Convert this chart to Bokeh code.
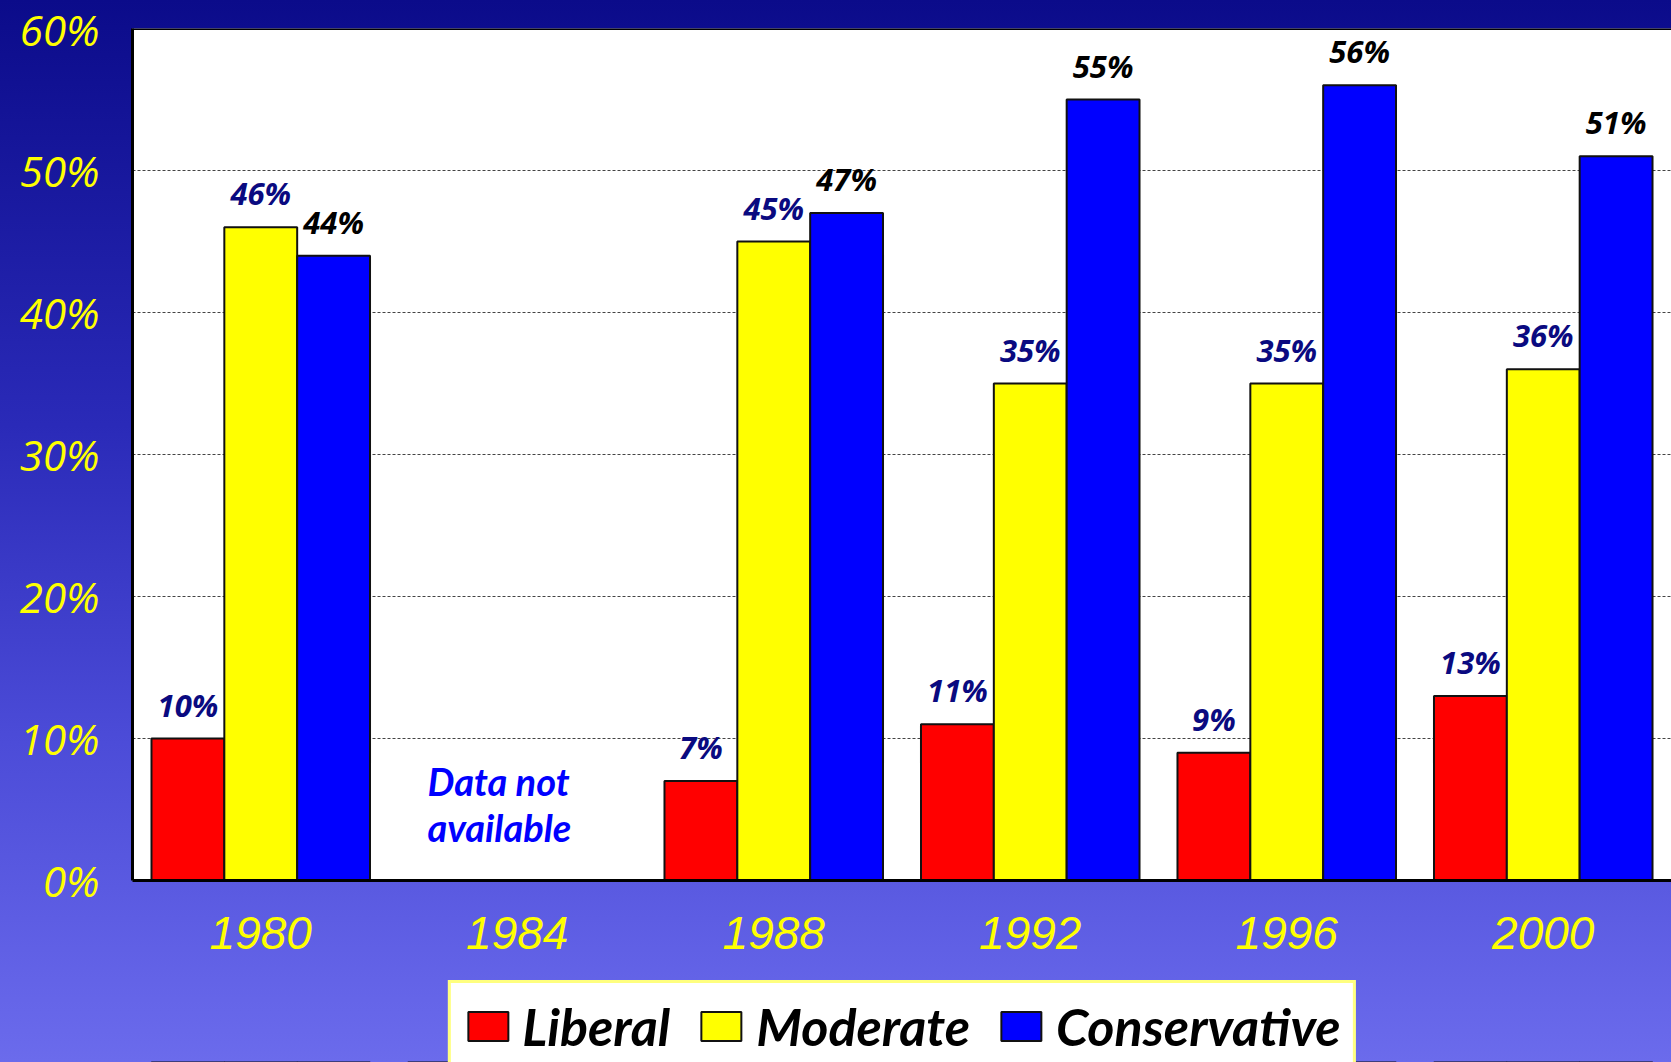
from bokeh.plotting import figure
from bokeh.layouts import column
from bokeh.models import (ColumnDataSource, FactorRange, Range1d, FixedTicker, Legend,
                          LegendItem, Span, GlobalInlineStyleSheet)
from bokeh.transform import dodge
from bokeh.core.properties import value
from bokeh.embed import file_html
from bokeh.resources import INLINE

years = ["1980", "1984", "1988", "1992", "1996", "2000"]
liberal = [10, None, 7, 11, 9, 13]
moderate = [46, None, 45, 35, 35, 36]
conservative = [44, None, 47, 55, 56, 51]
y_ticks = [0, 10, 20, 30, 40, 50, 60]
y_tick_labels = ["0%", "10%", "20%", "30%", "40%", "50%", "60%"]
series_names = ["Liberal", "Moderate", "Conservative"]
note_lines = ["Data not", "available"]
note_year = "1984"

BAR_W = 0.284
NARROW = "Lato, 'Liberation Sans Narrow', sans-serif"
colors = ["#ff0000", "#ffff00", "#0000ff"]
label_colors = ["#0a0a80", "#0a0a80", "#000000"]

p = figure(x_range=FactorRange(*years, range_padding=0), y_range=Range1d(0, 60),
           frame_width=1539, frame_height=852, output_backend="svg", toolbar_location=None,
           min_border_left=132, min_border_top=28, min_border_right=0, min_border_bottom=100)
p.stylesheets = [GlobalInlineStyleSheet(css="html{min-height:100%;} body{background:linear-gradient(to bottom,#0b0b8a 0%,#2a2ab8 40%,#4c4cd8 70%,#6b6bec 100%) fixed;}")]
p.border_fill_alpha = 0
p.background_fill_color = "white"
p.outline_line_color = None

p.xgrid.grid_line_color = None
p.ygrid.grid_line_color = "#444444"
p.ygrid.grid_line_dash = "3 2"
p.ygrid.grid_line_width = 1

p.yaxis.ticker = FixedTicker(ticks=y_ticks)
p.yaxis.major_label_overrides = {t: l for t, l in zip(y_ticks, y_tick_labels)}
for ax in (p.xaxis, p.yaxis):
    ax.major_tick_line_color = None
    ax.minor_tick_line_color = None
    ax.axis_line_color = "black"
    ax.axis_line_width = 3
    ax.major_tick_out = 0
    ax.major_tick_in = 0
p.yaxis.major_label_text_font = "'Open Sans', 'DejaVu Sans', sans-serif"
p.yaxis.major_label_text_font_style = "italic"
p.yaxis.major_label_text_font_size = "42px"
p.yaxis.major_label_text_color = "#ffff00"
p.yaxis.major_label_standoff = 33
p.xaxis.major_label_text_font = "'Liberation Sans', Arial, sans-serif"
p.xaxis.major_label_text_font_style = "italic"
p.xaxis.major_label_text_font_size = "46px"
p.xaxis.major_label_text_color = "#ffff00"
p.xaxis.major_label_standoff = 36

p.add_layout(Span(location=60, dimension="width", line_color="black", line_width=3))

src = ColumnDataSource(dict(
    year=years, Liberal=liberal, Moderate=moderate, Conservative=conservative,
    Liberal_lbl=[("" if v is None else f"{v}%") for v in liberal],
    Moderate_lbl=[("" if v is None else f"{v}%") for v in moderate],
    Conservative_lbl=[("" if v is None else f"{v}%") for v in conservative],
))

offsets = [-BAR_W, 0, BAR_W]
for name, col, lc, off in zip(series_names, colors, label_colors, offsets):
    p.vbar(x=dodge("year", off, range=p.x_range), top=name, width=BAR_W, source=src,
           fill_color=col, line_color="#111111", line_width=2)
    p.text(x=dodge("year", off, range=p.x_range), y=name, text=name + "_lbl", source=src,
           text_align="center", text_baseline="middle", y_offset=-34,
           text_font=value("Open Sans"), text_font_style="bold italic",
           text_font_size="31px", text_color=lc)

note_src = ColumnDataSource(dict(x=[note_year, note_year], y=[7.0, 3.8], t=note_lines))
p.text(x=dodge("x", -0.35, range=p.x_range), y="y", text="t", source=note_src,
       text_align="left", text_baseline="middle",
       text_font=value(NARROW),
       text_font_style="bold italic", text_font_size="38px", text_color="#0000ff")

# legend strip below the chart (its bars share the data but lie below its view)
lg = figure(x_range=FactorRange(*years, range_padding=0), y_range=Range1d(100, 200),
            frame_width=1539, frame_height=82,
            output_backend="svg", toolbar_location=None,
            min_border_left=132, min_border_right=0, min_border_top=0, min_border_bottom=0)
lg.axis.visible = False
lg.grid.visible = False
lg.border_fill_alpha = 0
lg.background_fill_alpha = 0
lg.outline_line_color = None
items = []
for name, col, off in zip(series_names, colors, offsets):
    r = lg.vbar(x=dodge("year", off, range=lg.x_range), top=name, width=BAR_W, source=src,
                fill_color=col, line_color="#111111", line_width=2)
    items.append(LegendItem(label=name, renderers=[r]))
legend = Legend(items=items, orientation="horizontal", location="top",
                label_text_font=NARROW,
                label_text_font_style="bold italic", label_text_font_size="52px",
                label_text_color="black", glyph_width=50, glyph_height=36,
                label_standoff=10, spacing=26, padding=12, margin=0,
                border_line_color="#ffff00", border_line_width=3,
                background_fill_color="white", background_fill_alpha=1)
lg.add_layout(legend, "center")

layout = column(p, lg, spacing=0)
open("out.html", "w").write(file_html(layout, INLINE))
